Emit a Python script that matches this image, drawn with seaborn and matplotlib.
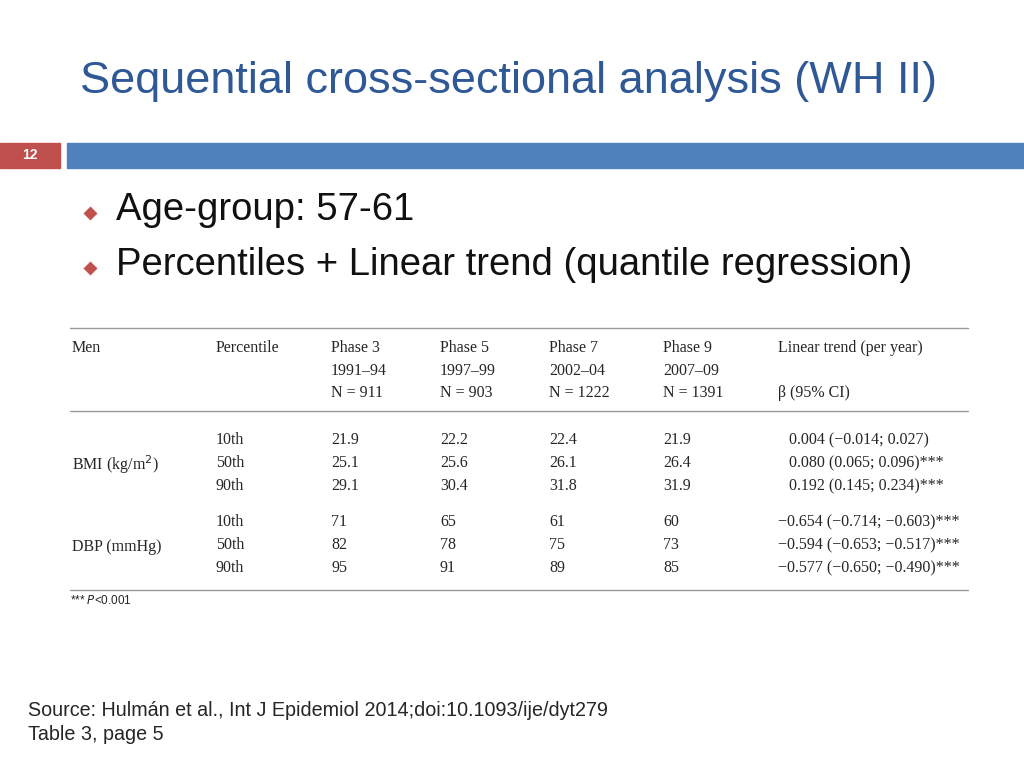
import numpy as np
import pandas as pd
import matplotlib.pyplot as plt
import seaborn as sns

# data
title = "Sequential cross-sectional analysis (WH II)"
slide_no = "12"
bullets = ["Age-group: 57-61", "Percentiles + Linear trend (quantile regression)"]
phases = ["Phase 3", "Phase 5", "Phase 7", "Phase 9"]
years = ["1991–94", "1997–99", "2002–04", "2007–09"]
ns = ["N = 911", "N = 903", "N = 1222", "N = 1391"]
percentiles = ["10th", "50th", "90th"]
bmi_vals = [["21.9", "22.2", "22.4", "21.9"],
            ["25.1", "25.6", "26.1", "26.4"],
            ["29.1", "30.4", "31.8", "31.9"]]
bmi_trend = ["0.004 (−0.014; 0.027)", "0.080 (0.065; 0.096)***", "0.192 (0.145; 0.234)***"]
dbp_vals = [["71", "65", "61", "60"],
            ["82", "78", "75", "73"],
            ["95", "91", "89", "85"]]
dbp_trend = ["−0.654 (−0.714; −0.603)***", "−0.594 (−0.653; −0.517)***", "−0.577 (−0.650; −0.490)***"]

sns.set_theme(style="white")
fig = plt.figure(figsize=(10.24, 7.68), dpi=100)
ax = fig.add_axes([0, 0, 1, 1])
ax.set_xlim(0, 1024)
ax.set_ylim(768, 0)
ax.axis("off")

blue = "#2F5897"
red = "#C0504D"
serif = "Liberation Serif"
sans = "Liberation Sans"

ax.text(80, 82, title, color=blue, fontsize=32.5, family=sans, va="center")
ax.add_patch(plt.Rectangle((0, 143), 60, 25, color=red))
ax.add_patch(plt.Rectangle((67, 143), 957, 25, color="#4F81BD"))
ax.text(30, 155, slide_no, color="white", fontsize=10, family=sans, ha="center", va="center", weight="bold")

bdf = pd.DataFrame({"x": [90] * len(bullets), "y": [213, 268]})
sns.scatterplot(data=bdf, x="x", y="y", marker="D", s=60, color=red, ax=ax, legend=False)
for y, b in zip(bdf["y"], bullets):
    ax.text(116, y - 3, b, fontsize=27.5, family=sans, va="center", color="#111111")

# table
for y in [328, 411, 590]:
    ax.plot([70, 968], [y, y], color="#999999", lw=1)
fs = 11.5
col_x = [331, 440, 549, 663]
ax.text(72, 348, "Men", family=serif, fontsize=fs, va="center")
ax.text(216, 348, "Percentile", family=serif, fontsize=fs, va="center")
ax.text(778, 348, "Linear trend (per year)", family=serif, fontsize=fs, va="center")
ax.text(778, 393, "β (95% CI)", family=serif, fontsize=fs, va="center")
for x, p, yr, n in zip(col_x, phases, years, ns):
    ax.text(x, 348, p, family=serif, fontsize=fs, va="center")
    ax.text(x, 371, yr, family=serif, fontsize=fs, va="center")
    ax.text(x, 393, n, family=serif, fontsize=fs, va="center")

def block(y0, label, vals, trend, trend_x):
    ax.text(72, y0 + 25, label, family=serif, fontsize=fs, va="center")
    for i, (p, row, t) in enumerate(zip(percentiles, vals, trend)):
        y = y0 + i * 23
        ax.text(216, y, p, family=serif, fontsize=fs, va="center")
        for x, v in zip(col_x, row):
            ax.text(x, y, v, family=serif, fontsize=fs, va="center")
        ax.text(trend_x, y, t, family=serif, fontsize=fs, va="center")

block(440, "BMI (kg/m$^2$)", bmi_vals, bmi_trend, 789)
block(522, "DBP (mmHg)", dbp_vals, dbp_trend, 778)

ax.text(70, 601, "*** $\\it{P}$<0.001", family=sans, fontsize=8.5, va="center")
ax.text(28, 710, "Source: Hulmán et al., Int J Epidemiol 2014;doi:10.1093/ije/dyt279",
        family=sans, fontsize=14.2, va="center")
ax.text(28, 734, "Table 3, page 5", family=sans, fontsize=14.2, va="center")

fig.savefig("out.png", dpi=100)
